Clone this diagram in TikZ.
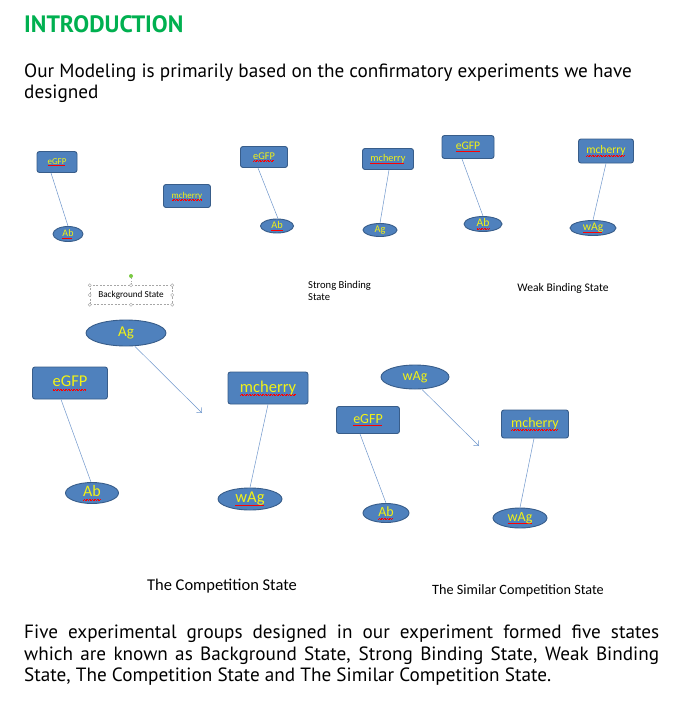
\documentclass[tikz,border=0pt]{standalone}
\usepackage{fontspec}
\setmainfont{PT Sans}
\newfontfamily\calfont{Carlito}
\usetikzlibrary{shapes.geometric,arrows.meta}
\definecolor{boxfill}{HTML}{4F81BD}
\definecolor{boxedge}{HTML}{385D8A}
\definecolor{bondline}{HTML}{6F97CC}
\definecolor{labelyellow}{HTML}{F2F215}
\definecolor{headgreen}{HTML}{00B050}
\definecolor{rotgreen}{HTML}{7AC943}
\newcommand{\fsz}[1]{\fontsize{#1}{#1}\selectfont}
% red squiggle under words the spell checker flags
\newcommand{\misspelt}[1]{\setbox0\hbox{#1}\rlap{\textcolor{red}{\raisebox{-0.2em}{\leaders\hbox to 1.6pt{\rule{0.8pt}{0.45pt}\rule[0.45pt]{0.8pt}{0.45pt}}\hskip\wd0}}}\box0}
\tikzset{
  cell/.style={draw=boxedge,fill=boxfill,rounded corners=2.5pt,line width=0.9pt,text=labelyellow,inner sep=0pt},
  blob/.style={ellipse,draw=boxedge,fill=boxfill,line width=0.9pt,text=labelyellow,inner sep=0pt},
  bond/.style={draw=bondline,line width=0.5pt},
  handle/.style={circle,draw=gray!70,fill=white,inner sep=0pt,minimum size=3.2pt},
  plain/.style={inner sep=0pt,anchor=west},
}
\begin{document}
\begin{tikzpicture}[x=1pt,y=-1pt,>={Straight Barb[length=4pt,width=7pt]}]
\useasboundingbox[fill=white] (0,0) rectangle (685,701);
% heading and intro
\node[plain,text=headgreen,font=\bfseries\fsz{23.7}] (title) at (24,24) {INTRODUCTION};
\node[plain,font=\fsz{19.2}] (intro1) at (24,73) {Our Modeling is primarily based on the confirmatory experiments we have};
\node[plain,font=\fsz{19.2}] (intro2) at (24,94) {designed};
% background state
\node[cell,minimum width=40,minimum height=21,font=\calfont\fsz{9}] (g1) at (57,162) {\misspelt{eGFP}};
\node[blob,minimum width=30,minimum height=15,font=\calfont\fsz{10}] (ab1) at (68,234) {\misspelt{Ab}};
\node[cell,minimum width=47,minimum height=23,font=\calfont\fsz{9}] (m1) at (187,196) {\misspelt{mcherry}};
\draw[bond] ([xshift=-6pt]g1.south) -- (ab1.north);
\node[draw=gray!70,dash pattern=on 2pt off 1.5pt,minimum width=82,minimum height=19,inner sep=0pt,font=\calfont\fsz{9.2}] (bg) at (131,295) {Background State};
\foreach \a [count=\i] in {north west,north,north east,east,south east,south,south west,west}
  \node[handle] (bgh\i) at (bg.\a) {};
\node[circle,fill=rotgreen,inner sep=0pt,minimum size=4pt] (rot) at (131,276) {};
\draw[gray!70,dotted] (bgh2) -- (rot);
% strong binding state
\node[cell,minimum width=47,minimum height=21,font=\calfont\fsz{10.3}] (g2) at (264,157) {\misspelt{eGFP}};
\node[blob,minimum width=33,minimum height=14,font=\calfont\fsz{10.3}] (ab2) at (277,226) {\misspelt{Ab}};
\node[cell,minimum width=51,minimum height=21,font=\calfont\fsz{10.3}] (m2) at (388,159) {\misspelt{mcherry}};
\node[blob,minimum width=34,minimum height=13,font=\calfont\fsz{10.3}] (ag2) at (380,230) {Ag};
\draw[bond] ([xshift=-6pt]g2.south) -- ([xshift=1pt]ab2.north);
\draw[bond] ([xshift=1pt]m2.south) -- (ag2.north);
\node[plain,align=left,font=\calfont\fontsize{10.6}{12.5}\selectfont] (strong) at (308,291) {Strong Binding\\State};
% weak binding state
\node[cell,minimum width=52,minimum height=23,font=\calfont\fsz{11.6}] (g3) at (468,147) {\misspelt{eGFP}};
\node[blob,minimum width=38,minimum height=15,font=\calfont\fsz{11.6}] (ab3) at (483,224) {\misspelt{Ab}};
\node[cell,minimum width=55,minimum height=24,font=\calfont\fsz{11.6}] (m3) at (606,151) {\misspelt{mcherry}};
\node[blob,minimum width=46,minimum height=15,font=\calfont\fsz{11.6}] (wag3) at (593,228) {\misspelt{wAg}};
\draw[bond] ([xshift=-6pt]g3.south) -- (ab3.north);
\draw[bond] (m3.south) -- (wag3.north);
\node[font=\calfont\fsz{11.6},inner sep=0pt] (weak) at (563,288) {Weak Binding State};
% the competition state
\node[blob,minimum width=80,minimum height=26,font=\calfont\fsz{15}] (ag4) at (126,333) {Ag};
\node[cell,minimum width=75,minimum height=32,font=\calfont\fsz{16.5}] (g4) at (70,383) {\misspelt{eGFP}};
\node[blob,minimum width=53,minimum height=21,font=\calfont\fsz{16}] (ab4) at (92,493) {\misspelt{Ab}};
\node[cell,minimum width=80,minimum height=32,font=\calfont\fsz{16.5}] (m4) at (268,388) {\misspelt{mcherry}};
\node[blob,minimum width=64,minimum height=22,font=\calfont\fsz{16.5}] (wag4) at (250,499) {\misspelt{wAg}};
\coordinate (tip4) at (202,413);
\draw[bond] ([xshift=-9pt]g4.south) -- ([xshift=-1pt]ab4.north);
\draw[bond] (m4.south) -- (wag4.north);
\draw[bond,->] ([xshift=9pt]ag4.south) -- (tip4);
\node[font=\calfont\fsz{16.5},inner sep=0pt] (comp) at (222,586) {The Competition State};
% the similar competition state
\node[blob,minimum width=68,minimum height=24,font=\calfont\fsz{14}] (wag5) at (415,377) {wAg};
\node[cell,minimum width=63,minimum height=27,font=\calfont\fsz{14}] (g5) at (368,420) {\misspelt{eGFP}};
\node[blob,minimum width=46,minimum height=19,font=\calfont\fsz{14}] (ab5) at (386,513) {\misspelt{Ab}};
\node[cell,minimum width=67,minimum height=28,font=\calfont\fsz{14}] (m5) at (535,424) {\misspelt{mcherry}};
\node[blob,minimum width=54,minimum height=20,font=\calfont\fsz{14}] (wag6) at (520,518) {\misspelt{wAg}};
\coordinate (tip5) at (479,446);
\draw[bond] ([xshift=-8pt]g5.south) -- (ab5.north);
\draw[bond] ([xshift=-1pt]m5.south) -- (wag6.north);
\draw[bond,->] ([xshift=7pt]wag5.south) -- (tip5);
\node[font=\calfont\fsz{14.2},inner sep=0pt] (simcomp) at (518,591) {The Similar Competition State};
% summary
\node[plain,font=\fsz{19.2}] (sum1) at (24,634) {\makebox[635pt][s]{Five experimental groups designed in our experiment formed five states}};
\node[plain,font=\fsz{19.2}] (sum2) at (24,656) {\makebox[635pt][s]{which are known as Background State, Strong Binding State, Weak Binding}};
\node[plain,font=\fsz{19.2}] (sum3) at (24,677) {State, The Competition State and The Similar Competition State.};
\end{tikzpicture}
\end{document}
